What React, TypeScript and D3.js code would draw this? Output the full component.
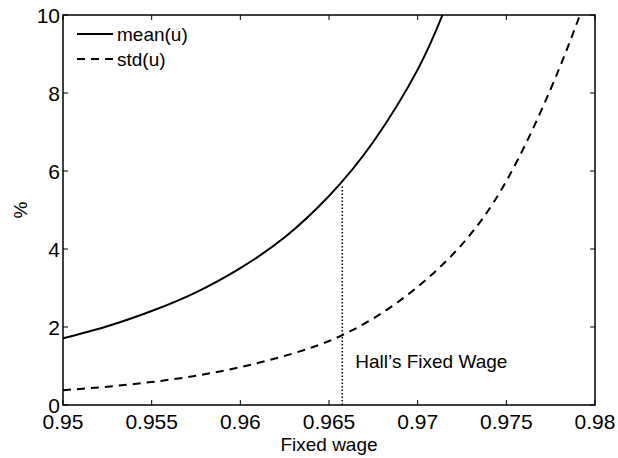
import React, { useEffect, useRef } from 'react';
import * as d3 from 'd3';

// values
const meanWage = [0.95, 0.9525, 0.955, 0.9575, 0.96, 0.9625, 0.965, 0.9675, 0.97, 0.9714];
const meanU = [1.71, 2.02, 2.41, 2.89, 3.51, 4.3, 5.36, 6.75, 8.6, 10.0];

const stdWage = [0.95, 0.9525, 0.955, 0.9575, 0.96, 0.9625, 0.965, 0.9675, 0.97, 0.9725, 0.975, 0.9775, 0.97915];
const stdU = [0.38, 0.47, 0.59, 0.75, 0.97, 1.26, 1.64, 2.22, 3.03, 4.12, 5.74, 8.1, 10.0];

const xTicks = [0.95, 0.955, 0.96, 0.965, 0.97, 0.975, 0.98];
const yTicks = [0, 2, 4, 6, 8, 10];

const hallWage = 0.96575;
const hallTop = 5.6;

const seriesNames = ['mean(u)', 'std(u)'];

const W = 618;
const H = 458;
const FONT = '"Liberation Sans", Arial, Helvetica, sans-serif';

const App: React.FC = () => {
  const svgRef = useRef<SVGSVGElement | null>(null);

  useEffect(() => {
    document.body.style.margin = '0';
    const svg = d3.select(svgRef.current);
    svg.selectAll('*').remove();

    const margin = { left: 63, right: 23, top: 15, bottom: 53 };
    const x = d3.scaleLinear().domain([0.95, 0.98]).range([margin.left, W - margin.right]);
    const y = d3.scaleLinear().domain([0, 10]).range([H - margin.bottom, margin.top]);

    svg.append('rect').attr('width', W).attr('height', H).attr('fill', '#fff');

    svg
      .append('clipPath')
      .attr('id', 'plotclip')
      .append('rect')
      .attr('x', x(0.95))
      .attr('y', y(10))
      .attr('width', x(0.98) - x(0.95))
      .attr('height', y(0) - y(10));

    const plot = svg.append('g').attr('clip-path', 'url(#plotclip)');

    const line = d3
      .line<[number, number]>()
      .x(d => x(d[0]))
      .y(d => y(d[1]))
      .curve(d3.curveNatural);

    plot
      .append('path')
      .attr('d', line(meanWage.map((w, i) => [w, meanU[i]] as [number, number])))
      .attr('fill', 'none')
      .attr('stroke', '#000')
      .attr('stroke-width', 2);

    plot
      .append('path')
      .attr('d', line(stdWage.map((w, i) => [w, stdU[i]] as [number, number])))
      .attr('fill', 'none')
      .attr('stroke', '#000')
      .attr('stroke-width', 2)
      .attr('stroke-dasharray', '8,6');

    // Hall's fixed wage marker
    plot
      .append('line')
      .attr('x1', x(hallWage))
      .attr('x2', x(hallWage))
      .attr('y1', y(0))
      .attr('y2', y(hallTop))
      .attr('stroke', '#000')
      .attr('stroke-width', 1.5)
      .attr('stroke-dasharray', '1.5,2');

    svg
      .append('text')
      .attr('x', x(hallWage) + 13)
      .attr('y', 368)
      .attr('font-family', FONT)
      .attr('font-size', 19)
      .text('Hall\u2019s Fixed Wage');

    // box
    svg
      .append('rect')
      .attr('x', x(0.95))
      .attr('y', y(10))
      .attr('width', x(0.98) - x(0.95))
      .attr('height', y(0) - y(10))
      .attr('fill', 'none')
      .attr('stroke', '#000')
      .attr('stroke-width', 1.5);

    const tl = 5;
    const ticks = svg.append('g').attr('stroke', '#000').attr('stroke-width', 1);
    xTicks.forEach(t => {
      ticks.append('line').attr('x1', x(t)).attr('x2', x(t)).attr('y1', y(0)).attr('y2', y(0) - tl);
      ticks.append('line').attr('x1', x(t)).attr('x2', x(t)).attr('y1', y(10)).attr('y2', y(10) + tl);
    });
    yTicks.forEach(t => {
      ticks.append('line').attr('x1', x(0.95)).attr('x2', x(0.95) + tl).attr('y1', y(t)).attr('y2', y(t));
      ticks.append('line').attr('x1', x(0.98)).attr('x2', x(0.98) - tl).attr('y1', y(t)).attr('y2', y(t));
    });

    svg
      .append('g')
      .selectAll('text')
      .data(xTicks)
      .join('text')
      .attr('x', d => x(d))
      .attr('y', y(0) + 24)
      .attr('text-anchor', 'middle')
      .attr('font-family', FONT)
      .attr('font-size', 21)
      .text(d => String(d));

    svg
      .append('g')
      .selectAll('text')
      .data(yTicks)
      .join('text')
      .attr('x', x(0.95) - 3)
      .attr('y', d => y(d))
      .attr('dy', '0.36em')
      .attr('text-anchor', 'end')
      .attr('font-family', FONT)
      .attr('font-size', 21)
      .text(d => String(d));

    svg
      .append('text')
      .attr('x', (x(0.95) + x(0.98)) / 2)
      .attr('y', 451)
      .attr('text-anchor', 'middle')
      .attr('font-family', FONT)
      .attr('font-size', 19)
      .text('Fixed wage');

    svg
      .append('text')
      .attr('transform', `translate(27, ${(y(0) + y(10)) / 2}) rotate(-90)`)
      .attr('text-anchor', 'middle')
      .attr('font-family', FONT)
      .attr('font-size', 19)
      .text('%');

    // legend (no box)
    const leg = svg.append('g');
    seriesNames.forEach((name, i) => {
      const ly = 34 + i * 25;
      leg
        .append('line')
        .attr('x1', 77)
        .attr('x2', 113)
        .attr('y1', ly)
        .attr('y2', ly)
        .attr('stroke', '#000')
        .attr('stroke-width', 2)
        .attr('stroke-dasharray', i === 1 ? '8,6' : null);
      leg
        .append('text')
        .attr('x', 117)
        .attr('y', ly)
        .attr('dy', '0.35em')
        .attr('font-family', FONT)
        .attr('font-size', 19)
        .text(name);
    });
  }, []);

  return <svg ref={svgRef} width={W} height={H} style={{ display: 'block' }}></svg>;
};

export default App;
